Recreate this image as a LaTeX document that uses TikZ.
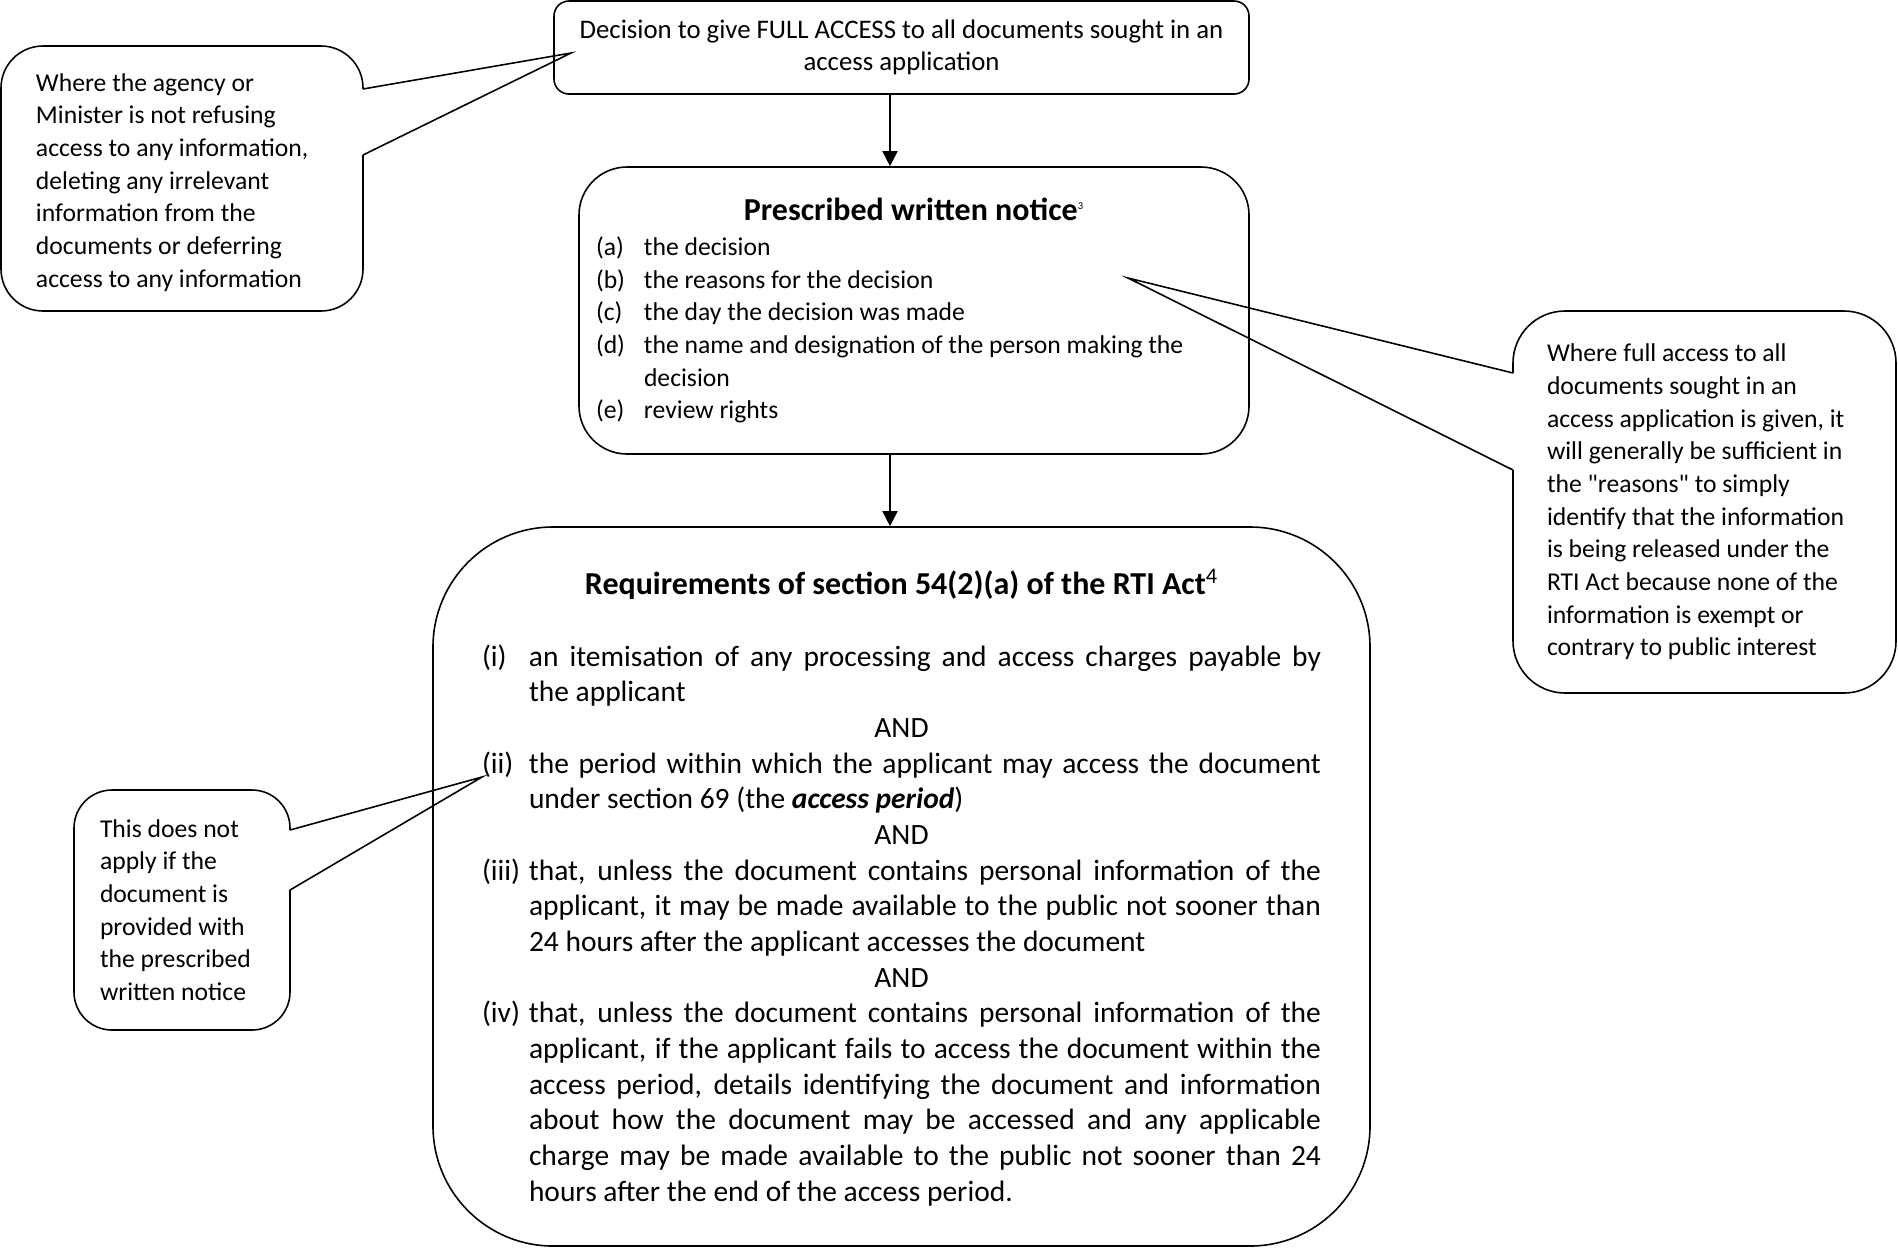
\documentclass[tikz,border=0pt]{standalone}
\usepackage{fontspec}
\setmainfont{Carlito}
\usetikzlibrary{arrows.meta}

\tolerance=9999
\hyphenpenalty=10000

\newcommand{\bodyfont}{\fontsize{15.25pt}{18.6pt}\selectfont}
\newcommand{\notefont}{\fontsize{14.6pt}{18.6pt}\selectfont}
\newcommand{\reqfont}{\fontsize{16.77pt}{20.3pt}\selectfont}
\newcommand{\headfont}{\fontsize{18.2pt}{22pt}\selectfont\bfseries}
\newlength{\labw}
\newcommand{\litem}[2]{\hangindent=\labw\hangafter=1\noindent\makebox[\labw][l]{#1}#2\par}
\newcommand{\andline}{{\centering AND\par}}

\tikzset{
    box/.style={draw, line width=0.9pt, inner sep=0pt, font=\bodyfont},
    callout/.style={box, align=flush left, font=\notefont},
    pointer/.style={line width=0.9pt, line join=miter},
    erase/.style={white, line width=2.2pt},
}

\begin{document}
\begin{tikzpicture}[>={Triangle[length=3mm,width=3mm]}, x=0.2mm, y=0.2mm]
\useasboundingbox (0,0) rectangle (1898,-1248);

% --------------------------------------------------
% Main column: decision and notices
% --------------------------------------------------
\node[box, rounded corners=3mm, minimum width=139mm, minimum height=18.6mm, align=center]
    (decision) at (901.5,-47.5)
    {Decision to give FULL ACCESS to all documents sought in an\\access application};

\node[box, rounded corners=9.6mm, minimum width=134mm, minimum height=57.4mm,
      text width=127.2mm, align=flush left, font=\notefont]
    (notice) at (914,-310.5)
    {\setlength{\labw}{9.6mm}%
     {\centering\headfont Prescribed written notice\textsuperscript{\normalfont\fontsize{6pt}{6pt}\selectfont 3}\par}
     \vspace{1.3pt}
     \litem{(a)}{the decision}
     \litem{(b)}{the reasons for the decision}
     \litem{(c)}{the day the decision was made}
     \litem{(d)}{the name and designation of the person making the\linebreak decision}
     \litem{(e)}{review rights}};

\node[box, rounded corners=24mm, minimum width=187.4mm, minimum height=143.8mm,
      text width=167.8mm, align=justify, font=\reqfont]
    (reqs) at (901.5,-886.5)
    {\setlength{\labw}{9.4mm}%
     \par\vspace*{-6.3pt}
     {\centering\headfont Requirements of section 54(2)(a) of the RTI Act\textsuperscript{\normalfont 4}\par}
     \vspace{\baselineskip}
     \litem{(i)}{an itemisation of any processing and access charges payable by\linebreak the applicant}
     \andline
     \litem{(ii)}{the period within which the applicant may access the document\linebreak under section 69 (the \textbf{\textit{access period}})}
     \andline
     \litem{(iii)}{that, unless the document contains personal information of the\linebreak applicant, it may be made available to the public not sooner than\linebreak 24 hours after the applicant accesses the document}
     \andline
     \litem{(iv)}{that, unless the document contains personal information of the\linebreak applicant, if the applicant fails to access the document within the\linebreak access period, details identifying the document and information\linebreak about how the document may be accessed and any applicable\linebreak charge may be made available to the public not sooner than 24\linebreak hours after the end of the access period.}};

\draw[->, line width=0.9pt] ([xshift=-2.3mm]decision.south) -- ([xshift=-2.3mm]decision.south |- notice.north);
\draw[->, line width=0.9pt] ([xshift=-2.3mm]reqs.north |- notice.south) -- ([xshift=-2.3mm]reqs.north);

% --------------------------------------------------
% Callouts
% --------------------------------------------------
\node[callout, rounded corners=8.4mm, minimum width=72.4mm, minimum height=53mm, text width=58.4mm]
    (agency) at (182,-178.5)
    {\par\vspace*{-4.2pt}Where the agency or\\Minister is not refusing\\access to any information,\\deleting any irrelevant\\information from the\\documents or deferring\\access to any information};
\coordinate (agency-b1) at (363,-89);
\coordinate (agency-b2) at (363,-155);
\coordinate (agency-tip) at (571,-53);
\draw[erase] (agency-b1) -- (agency-b2);
\draw[pointer] (agency-b1) -- (agency-tip) -- (agency-b2);

\node[callout, rounded corners=10.4mm, minimum width=76.6mm, minimum height=76.4mm, text width=63mm]
    (full) at (1704.5,-502)
    {Where full access to all\\documents sought in an\\access application is given, it\\will generally be sufficient in\\the \textquotedbl reasons\textquotedbl{} to simply\\identify that the information\\is being released under the\\RTI Act because none of the\\information is exempt or\\contrary to public interest};
\coordinate (full-b1) at (1513,-373);
\coordinate (full-b2) at (1513,-470);
\coordinate (full-tip) at (1128,-278);
\draw[erase] (full-b1) -- (full-b2);
\draw[pointer] (full-b1) -- (full-tip) -- (full-b2);

\node[callout, rounded corners=7.6mm, minimum width=43.2mm, minimum height=48mm, text width=32.8mm]
    (notapply) at (182,-910)
    {This does not\\apply if the\\document is\\provided with\\the prescribed\\written notice};
\coordinate (notapply-b1) at (290,-830);
\coordinate (notapply-b2) at (290,-890);
\coordinate (notapply-tip) at (482,-777);
\draw[erase] (notapply-b1) -- (notapply-b2);
\draw[pointer] (notapply-b1) -- (notapply-tip) -- (notapply-b2);

\end{tikzpicture}
\end{document}
